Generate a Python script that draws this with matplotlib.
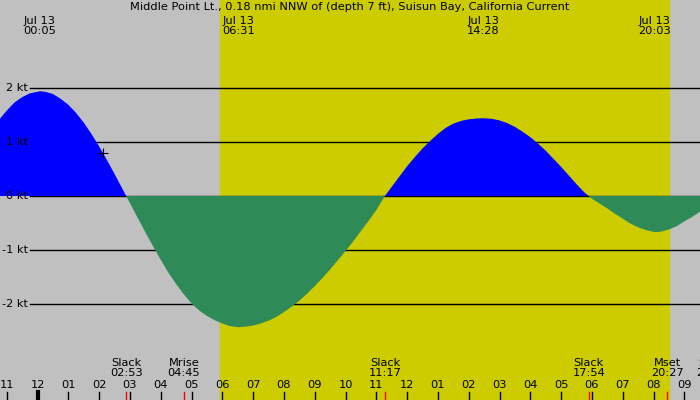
import matplotlib
matplotlib.use("Agg")
import matplotlib.pyplot as plt
import numpy as np

# hours after midnight Jul 13 and current speed (kt)
hours = [-1.22, -1.0, -0.75, -0.5, -0.25, 0.08, 0.25, 0.5, 0.75, 1.0,
         1.25, 1.5, 1.75, 2.0, 2.25, 2.5, 2.88, 3.0, 3.25, 3.5,
         3.75, 4.0, 4.25, 4.5, 4.75, 5.0, 5.25, 5.5, 5.75, 6.0,
         6.25, 6.52, 6.75, 7.0, 7.25, 7.5, 7.75, 8.0, 8.25, 8.5,
         8.75, 9.0, 9.25, 9.5, 9.75, 10.0, 10.25, 10.5, 10.75, 11.0,
         11.28, 11.5, 11.75, 12.0, 12.25, 12.5, 12.75, 13.0, 13.25, 13.5,
         13.75, 14.0, 14.25, 14.47, 14.75, 15.0, 15.25, 15.5, 15.75, 16.0,
         16.25, 16.5, 16.75, 17.0, 17.25, 17.5, 17.75, 17.9, 18.0, 18.25,
         18.5, 18.75, 19.0, 19.25, 19.5, 19.75, 20.05, 20.25, 20.5, 20.75,
         21.0, 21.25, 21.51]
speed = [1.43, 1.58, 1.73, 1.83, 1.90, 1.94, 1.93, 1.89, 1.80, 1.69,
         1.54, 1.36, 1.15, 0.92, 0.67, 0.41, 0.0, -0.13, -0.40, -0.67,
         -0.93, -1.18, -1.42, -1.63, -1.82, -1.99, -2.12, -2.22, -2.30, -2.36,
         -2.41, -2.43, -2.42, -2.40, -2.36, -2.31, -2.24, -2.15, -2.05, -1.94,
         -1.81, -1.67, -1.52, -1.36, -1.19, -1.02, -0.84, -0.65, -0.46, -0.26,
         0.0, 0.17, 0.36, 0.55, 0.72, 0.88, 1.02, 1.15, 1.26, 1.34,
         1.39, 1.42, 1.435, 1.44, 1.43, 1.40, 1.35, 1.28, 1.19, 1.09,
         0.97, 0.84, 0.69, 0.54, 0.38, 0.22, 0.07, 0.0, -0.05, -0.14,
         -0.23, -0.33, -0.42, -0.51, -0.58, -0.63, -0.67, -0.66, -0.62, -0.56,
         -0.47, -0.39, -0.29]

# max flood / ebb times shown at the top
peak_hours = [0.08, 6.52, 14.47, 20.05]
peak_labels = ["Jul 13\n00:05", "Jul 13\n06:31", "Jul 13\n14:28", "Jul 13\n20:03"]

# slack and moon events shown at the bottom
event_hours = [2.88, 4.75, 11.28, 17.9, 20.45, 21.93]
event_labels = ["Slack\n02:53", "Mrise\n04:45", "Slack\n11:17", "Slack\n17:54",
                "Mset\n20:27", "Slack\n21:56"]

hour_ticks = list(range(-1, 22))
hour_labels = ["11", "12", "01", "02", "03", "04", "05", "06", "07", "08", "09", "10",
               "11", "12", "01", "02", "03", "04", "05", "06", "07", "08", "09"]

sunrise, sunset = 5.93, 20.5
kt_levels = [2, 1, 0, -1, -2]
kt_labels = ["2 kt", "1 kt", "0 kt", "-1 kt", "-2 kt"]

plt.rcParams['font.family'] = ['DejaVu Sans']
fs = 8.2
fig = plt.figure(figsize=(7, 4), dpi=100, facecolor="#c0c0c0")
ax = fig.add_axes([0, 0, 1, 1])
ax.set_facecolor("#c0c0c0")

# pixel layout: hour h at x = 37.5 + 30.8 h, speed v at y = 196 - 54 v
ax.set_xlim(-37.5 / 30.8, (700 - 37.5) / 30.8)
ax.set_ylim((196 - 400) / 54, 196 / 54)
ax.axis("off")

ax.axvspan(sunrise, sunset, color="#cccc00", zorder=0)

x0 = (30 - 37.5) / 30.8
for lv in kt_levels:
    ax.plot([x0, 30], [lv, lv], color="black", lw=1.0, zorder=1)
for lv, lb in zip(kt_levels, kt_labels):
    ax.text((28 - 37.5) / 30.8, lv, lb, ha="right", va="center", fontsize=fs, zorder=8)

# flood (blue) and ebb (green) areas as polygons closed on the zero line
h = np.array(hours)
v = np.array(speed)
flood = np.maximum(v, 0)
ebb = np.minimum(v, 0)
xs = np.concatenate([h, h[::-1]])
p1 = ax.fill(xs, np.concatenate([flood, np.zeros_like(h)]), color="#0000ff", lw=0)[0]
p2 = ax.fill(xs, np.concatenate([ebb, np.zeros_like(h)]), color="#2e8b57", lw=0)[0]
p1.set_zorder(5)
p2.set_zorder(5)

# current time marker
ax.plot([2.13], [0.79], marker="+", color="black", ms=7, mew=0.8, zorder=9)

tx = ax.get_xaxis_transform()
ax.text(0.5, 1 - 7.5 / 400, "Middle Point Lt., 0.18 nmi NNW of (depth 7 ft), Suisun Bay, California Current",
        transform=ax.transAxes, ha="center", va="center", fontsize=fs)
for ph, pl in zip(peak_hours, peak_labels):
    ax.text(ph, 1 - 26 / 400, pl, transform=tx, ha="center", va="center",
            fontsize=fs, linespacing=1.0)

for eh, el in zip(event_hours, event_labels):
    ax.text(eh, 1 - 367.5 / 400, el, transform=tx, ha="center", va="center",
            fontsize=fs, linespacing=1.0)
    ax.plot([eh, eh], [0, 8 / 400], transform=tx, color="red", lw=1.0, zorder=4)

for ht, hl in zip(hour_ticks, hour_labels):
    ax.text(ht, 1 - 385.5 / 400, hl, transform=tx, ha="center", va="center", fontsize=fs)
    ax.plot([ht, ht], [0, 8 / 400], transform=tx, color="black",
            lw=3.0 if ht == 0 else 1.0, zorder=4)

fig.savefig("out.png", dpi=100, facecolor=fig.get_facecolor())
